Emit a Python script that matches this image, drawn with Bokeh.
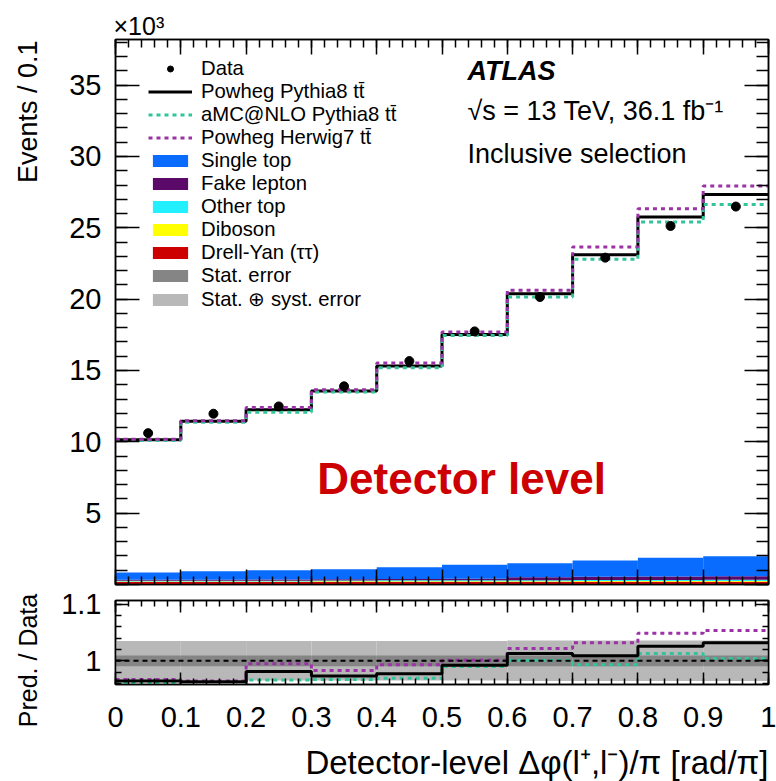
import numpy as np
from bokeh.plotting import figure
from bokeh.layouts import column, row
from bokeh.models import (Range1d, LinearAxis, FixedTicker, CustomJSTickFormatter, Label,
                          Legend, LegendItem, ColumnDataSource, Span)
from bokeh.embed import file_html
from bokeh.resources import INLINE

# ---------------- data (values in units of 10^3 events) ----------------
bin_edges = [0.0, 0.1, 0.2, 0.3, 0.4, 0.5, 0.6, 0.7, 0.8, 0.9, 1.0]
data_vals = [10.61, 11.97, 12.48, 13.89, 15.66, 17.74, 20.15, 22.91, 25.13, 26.49]
powheg_py8 = [10.15, 11.45, 12.25, 13.56, 15.31, 17.53, 20.38, 23.12, 25.76, 27.33]
amcnlo_py8 = [10.10, 11.38, 12.08, 13.49, 15.20, 17.45, 20.15, 22.79, 25.41, 26.63]
powheg_h7 = [10.18, 11.48, 12.40, 13.65, 15.52, 17.69, 20.62, 23.65, 26.34, 27.93]
drell_yan = [0.17, 0.17, 0.17, 0.17, 0.18, 0.18, 0.18, 0.19, 0.19, 0.19]
diboson = [0.04, 0.04, 0.04, 0.05, 0.05, 0.05, 0.05, 0.06, 0.06, 0.06]
other_top = [0.05, 0.05, 0.05, 0.06, 0.06, 0.06, 0.07, 0.07, 0.07, 0.08]
fake_lepton = [0.08, 0.08, 0.09, 0.09, 0.10, 0.11, 0.20, 0.22, 0.24, 0.25]
single_top = [0.50, 0.59, 0.65, 0.70, 0.82, 0.98, 0.99, 1.14, 1.31, 1.40]

# ratio panel (Pred. / Data)
ratio_py8 = [0.964, 0.963, 0.981, 0.973, 0.977, 0.992, 1.013, 1.009, 1.026, 1.032]
ratio_amc = [0.960, 0.954, 0.966, 0.967, 0.969, 0.990, 1.001, 0.993, 1.013, 1.004]
ratio_h7 = [0.967, 0.964, 0.995, 0.983, 0.993, 1.001, 1.022, 1.032, 1.049, 1.054]
stat_err = [0.0095] * 10
tot_err = [0.035, 0.035, 0.035, 0.035, 0.035, 0.035, 0.036, 0.036, 0.036, 0.036]

x_ticks = [0.0, 0.1, 0.2, 0.3, 0.4, 0.5, 0.6, 0.7, 0.8, 0.9, 1.0]
y_ticks = [0, 5, 10, 15, 20, 25, 30, 35]
ratio_ticks = [1.0, 1.1]

FONT = "Liberation Sans"
C_ST = "#0a6cff"
C_FAKE = "#5c0a6a"
C_OTHER = "#22f0ff"
C_DIB = "#ffff00"
C_DY = "#cc0000"
C_STAT = "#858585"
C_SYST = "#b8b8b8"
C_AMC = "#33c49a"
C_H7 = "#9b33a6"

edges = np.array(bin_edges)
left = edges[:-1]
right = edges[1:]
centers = 0.5 * (left + right)

YMAX = 38.2
RMIN, RMAX = 0.958, 1.107
STRIP_W = 50
MAIN_H = 586
RATIO_H = 155
XLAB_H = 781 - MAIN_H - RATIO_H

blank = CustomJSTickFormatter(code='return "";')


def style_axis(ax, major_in, minor_in, size="29px"):
    ax.major_tick_in = major_in
    ax.major_tick_out = 0
    ax.minor_tick_in = minor_in
    ax.minor_tick_out = 0
    ax.axis_line_color = "black"
    ax.axis_line_width = 1.5
    ax.major_tick_line_color = "black"
    ax.major_tick_line_width = 1.5
    ax.minor_tick_line_color = "black"
    ax.minor_tick_line_width = 1.5
    ax.major_label_text_font = FONT
    ax.major_label_text_font_size = size
    ax.major_label_text_color = "black"


def text_strip(w, h):
    s = figure(width=w, height=h, x_range=Range1d(0, w), y_range=Range1d(h, 0),
               output_backend="svg", toolbar_location=None, x_axis_location=None,
               y_axis_location=None, min_border=0, min_border_left=0, min_border_right=0,
               min_border_top=0, min_border_bottom=0)
    s.grid.visible = False
    s.outline_line_color = None
    s.background_fill_color = "white"
    s.border_fill_color = "white"
    return s


# ---------------- main panel ----------------
p = figure(width=776 - STRIP_W, height=MAIN_H, x_range=Range1d(0, 1), y_range=Range1d(0, YMAX),
           output_backend="svg", toolbar_location=None,
           min_border_left=115 - STRIP_W, min_border_right=8, min_border_top=39, min_border_bottom=2)
p.grid.visible = False
p.outline_line_color = "black"
p.outline_line_width = 1.5
p.background_fill_color = "white"
p.border_fill_color = "white"

p.title.text = "\u00d710\u00b3"
p.title.align = "left"
p.title.text_font = FONT
p.title.text_font_size = "25px"
p.title.text_font_style = "normal"
p.title.text_color = "black"
p.title.standoff = 0
p.title.offset = -2

xt = FixedTicker(ticks=x_ticks, minor_ticks=list(np.round(np.arange(0, 1.001, 0.02), 2)))
yt = FixedTicker(ticks=y_ticks, minor_ticks=list(range(0, 39)))

p.xaxis.ticker = xt
p.xaxis.formatter = blank
p.xaxis.major_label_standoff = 0
style_axis(p.xaxis[0], 15, 8)
p.yaxis.ticker = yt
p.yaxis.formatter = CustomJSTickFormatter(code='return tick == 0 ? "" : tick.toFixed(0);')
p.yaxis.major_label_standoff = 14
style_axis(p.yaxis[0], 24, 12)

ax_top = LinearAxis(ticker=xt, formatter=blank, major_label_standoff=0)
style_axis(ax_top, 15, 8)
p.add_layout(ax_top, "above")
ax_right = LinearAxis(ticker=yt, formatter=blank, major_label_standoff=0)
style_axis(ax_right, 24, 12)
p.add_layout(ax_right, "right")

# stacked backgrounds
stack_order = [("Drell-Yan (ττ)", drell_yan, C_DY), ("Diboson", diboson, C_DIB),
               ("Other top", other_top, C_OTHER), ("Fake lepton", fake_lepton, C_FAKE),
               ("Single top", single_top, C_ST)]
bottom = np.zeros(10)
bg_renderers = {}
for name, vals, col in stack_order:
    top = bottom + np.array(vals)
    src = ColumnDataSource(dict(left=left, right=right, bottom=bottom, top=top))
    rr = p.quad(left="left", right="right", bottom="bottom", top="top", source=src,
                fill_color=col, line_color=None)
    bg_renderers[name] = rr
    bottom = top

# predictions as step lines
def step_vals(v):
    return list(v) + [v[-1]]

r_py8 = p.step(x=edges, y=step_vals(powheg_py8), mode="after", line_color="black", line_width=3)
r_amc = p.step(x=edges, y=step_vals(amcnlo_py8), mode="after", line_color=C_AMC, line_width=3,
               line_dash="4 4")
r_h7 = p.step(x=edges, y=step_vals(powheg_h7), mode="after", line_color=C_H7, line_width=3,
              line_dash="4 4")
r_data = p.scatter(x=centers, y=data_vals, size=9, color="black")

# zero-height band renderers (only used for the legend swatches of the error bands)
zeros = np.zeros(10)
r_stat = p.quad(left=left, right=right, bottom=zeros, top=zeros, fill_color=C_STAT, line_color=None)
r_syst = p.quad(left=left, right=right, bottom=zeros, top=zeros, fill_color=C_SYST, line_color=None)

items = [
    LegendItem(label="Data", renderers=[r_data]),
    LegendItem(label="Powheg Pythia8 tt\u0304", renderers=[r_py8]),
    LegendItem(label="aMC@NLO Pythia8 tt\u0304", renderers=[r_amc]),
    LegendItem(label="Powheg Herwig7 tt\u0304", renderers=[r_h7]),
    LegendItem(label="Single top", renderers=[bg_renderers["Single top"]]),
    LegendItem(label="Fake lepton", renderers=[bg_renderers["Fake lepton"]]),
    LegendItem(label="Other top", renderers=[bg_renderers["Other top"]]),
    LegendItem(label="Diboson", renderers=[bg_renderers["Diboson"]]),
    LegendItem(label="Drell-Yan (ττ)", renderers=[bg_renderers["Drell-Yan (ττ)"]]),
    LegendItem(label="Stat. error", renderers=[r_stat]),
    LegendItem(label="Stat. \u2295 syst. error", renderers=[r_syst]),
]
legend = Legend(items=items, location=(33, 273), background_fill_alpha=0, border_line_alpha=0,
                label_text_font=FONT, label_text_font_size="20.3px", label_text_color="black",
                glyph_width=44, glyph_height=15, label_height=20, spacing=0, padding=0, margin=0,
                label_standoff=9)
p.add_layout(legend)

# texts inside the frame (positions given as screen-y of the text centre)
def ydat(sy):
    return (584 - sy) / 545.0 * YMAX

for txt, sy, style in [("ATLAS", 70, "bold italic"),
                       ("\u221as = 13 TeV, 36.1 fb\u207b\u00b9", 110, "normal"),
                       ("Inclusive selection", 153, "normal")]:
    p.add_layout(Label(x=0.539, y=ydat(sy), text=txt, text_font=FONT, text_font_size="27px",
                       text_font_style=style, text_color="black", text_align="left",
                       text_baseline="middle"))
p.add_layout(Label(x=0.53, y=ydat(478), text="Detector level", text_font=FONT, text_font_size="44px",
                   text_font_style="bold", text_color=C_DY, text_align="center",
                   text_baseline="middle"))

# ---------------- ratio panel ----------------
r = figure(width=776 - STRIP_W, height=RATIO_H, x_range=p.x_range, y_range=Range1d(RMIN, RMAX),
           output_backend="svg", toolbar_location=None,
           min_border_left=115 - STRIP_W, min_border_right=8, min_border_top=600 - MAIN_H,
           min_border_bottom=RATIO_H - (600 - MAIN_H) - 84)
r.grid.visible = False
r.outline_line_color = "black"
r.outline_line_width = 1.5
r.background_fill_color = "white"
r.border_fill_color = "white"

rt = FixedTicker(ticks=ratio_ticks, minor_ticks=list(np.round(np.arange(0.96, 1.101, 0.02), 2)))
r.xaxis.ticker = xt
r.xaxis.formatter = CustomJSTickFormatter(
    code='if (Math.abs(tick) < 1e-9) return "0"; if (Math.abs(tick-1) < 1e-9) return "1"; return tick.toFixed(1);')
r.xaxis.major_label_standoff = 22
style_axis(r.xaxis[0], 12, 6)
r.yaxis.ticker = rt
r.yaxis.formatter = CustomJSTickFormatter(
    code='return Math.abs(tick-1) < 1e-6 ? "1" : tick.toFixed(1);')
r.yaxis.major_label_standoff = 14
style_axis(r.yaxis[0], 13, 6)
rax_top = LinearAxis(ticker=xt, formatter=blank, major_label_standoff=0)
style_axis(rax_top, 12, 6)
r.add_layout(rax_top, "above")
rax_right = LinearAxis(ticker=rt, formatter=blank, major_label_standoff=0)
style_axis(rax_right, 13, 6)
r.add_layout(rax_right, "right")

tot = np.array(tot_err)
st = np.array(stat_err)
r.quad(left=left, right=right, bottom=1 - tot, top=1 + tot, fill_color=C_SYST, line_color=None)
r.quad(left=left, right=right, bottom=1 - st, top=1 + st, fill_color=C_STAT, line_color=None)
r.add_layout(Span(location=1.0, dimension="width", line_color="black", line_width=2, line_dash="5 4"))
r.step(x=edges, y=step_vals(ratio_amc), mode="after", line_color=C_AMC, line_width=3, line_dash="4 4")
r.step(x=edges, y=step_vals(ratio_h7), mode="after", line_color=C_H7, line_width=3, line_dash="4 4")
r.step(x=edges, y=step_vals(ratio_py8), mode="after", line_color="black", line_width=3)

# one tall strip on the left holding both y titles
LEFT_H = MAIN_H + RATIO_H
sa = text_strip(STRIP_W, LEFT_H)
sa.add_layout(Label(x=27, y=40, text="Events / 0.1", text_font=FONT, text_font_size="27px",
                    text_color="black", angle=np.pi / 2, text_align="right", text_baseline="middle"))
sa.add_layout(Label(x=27, y=660, text="Pred. / Data", text_font=FONT, text_font_size="25px",
                    text_color="black", angle=np.pi / 2, text_align="center", text_baseline="middle"))

# x-title strip
sc = text_strip(776, XLAB_H)
sc.add_layout(Label(x=768, y=762 - MAIN_H - RATIO_H,
                    text="Detector-level \u0394\u03c6(l\u207a,l\u207b)/\u03c0 [rad/\u03c0]",
                    text_font=FONT, text_font_size="33px", text_color="black",
                    text_align="right", text_baseline="middle"))

layout = column(row(sa, column(p, r, spacing=0), spacing=0), sc, spacing=0)
open("out.html", "w").write(file_html(layout, INLINE))
